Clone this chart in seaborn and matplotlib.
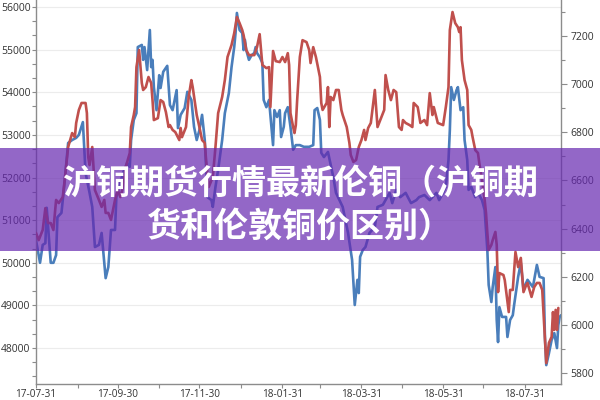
import matplotlib
matplotlib.use("Agg")
import matplotlib.pyplot as plt
import matplotlib.dates as mdates
from matplotlib.ticker import MultipleLocator, FixedLocator
from matplotlib.patches import Rectangle
import seaborn as sns
import pandas as pd

# ---------------- data ----------------
blue_dates = [
    "2017-07-31", "2017-08-03", "2017-08-05", "2017-08-07", "2017-08-08", "2017-08-11", "2017-08-13", "2017-08-15", "2017-08-16", "2017-08-19",
    "2017-08-21", "2017-08-24", "2017-08-27", "2017-08-30", "2017-09-01", "2017-09-04", "2017-09-06", "2017-09-09", "2017-09-11", "2017-09-13",
    "2017-09-16", "2017-09-18", "2017-09-21", "2017-09-23", "2017-09-25", "2017-09-28", "2017-09-29", "2017-10-04", "2017-10-07", "2017-10-09",
    "2017-10-10", "2017-10-12", "2017-10-14", "2017-10-15", "2017-10-18", "2017-10-19", "2017-10-20", "2017-10-22", "2017-10-24", "2017-10-25",
    "2017-10-26", "2017-10-27", "2017-10-29", "2017-10-31", "2017-11-01", "2017-11-03", "2017-11-06", "2017-11-08", "2017-11-10", "2017-11-13",
    "2017-11-14", "2017-11-16", "2017-11-19", "2017-11-21", "2017-11-24", "2017-11-26", "2017-11-28", "2017-11-30", "2017-12-02", "2017-12-04",
    "2017-12-05", "2017-12-06", "2017-12-09", "2017-12-10", "2017-12-12", "2017-12-14", "2017-12-17", "2017-12-19", "2017-12-22", "2017-12-24",
    "2017-12-26", "2017-12-27", "2017-12-28", "2017-12-30", "2018-01-01", "2018-01-02", "2018-01-03", "2018-01-04", "2018-01-06", "2018-01-08",
    "2018-01-10", "2018-01-11", "2018-01-12", "2018-01-14", "2018-01-16", "2018-01-17", "2018-01-19", "2018-01-21", "2018-01-24", "2018-01-25",
    "2018-01-27", "2018-01-29", "2018-01-30", "2018-02-01", "2018-02-02", "2018-02-04", "2018-02-06", "2018-02-08", "2018-02-10", "2018-02-13",
    "2018-02-16", "2018-02-20", "2018-02-23", "2018-02-24", "2018-02-26", "2018-02-28", "2018-03-01", "2018-03-03", "2018-03-06", "2018-03-10",
    "2018-03-12", "2018-03-17", "2018-03-21", "2018-03-24", "2018-03-25", "2018-03-26", "2018-03-28", "2018-03-29", "2018-03-30", "2018-04-01",
    "2018-04-03", "2018-04-06", "2018-04-10", "2018-04-12", "2018-04-16", "2018-04-21", "2018-04-23", "2018-04-26", "2018-04-29", "2018-05-03",
    "2018-05-07", "2018-05-11", "2018-05-13", "2018-05-17", "2018-05-21", "2018-05-23", "2018-05-26", "2018-05-28", "2018-05-31", "2018-06-02",
    "2018-06-04", "2018-06-05", "2018-06-06", "2018-06-08", "2018-06-10", "2018-06-11", "2018-06-13", "2018-06-15", "2018-06-16", "2018-06-18",
    "2018-06-19", "2018-06-21", "2018-06-24", "2018-06-26", "2018-06-29", "2018-07-01", "2018-07-03", "2018-07-04", "2018-07-06", "2018-07-07",
    "2018-07-09", "2018-07-10", "2018-07-11", "2018-07-12", "2018-07-14", "2018-07-17", "2018-07-18", "2018-07-20", "2018-07-22", "2018-07-23",
    "2018-07-26", "2018-07-28", "2018-07-30", "2018-08-01", "2018-08-02", "2018-08-06", "2018-08-09", "2018-08-11", "2018-08-14", "2018-08-15",
    "2018-08-16", "2018-08-18", "2018-08-20", "2018-08-22", "2018-08-24", "2018-08-25", "2018-08-26", "2018-08-27",
]
blue_values = [
    50530, 50000, 50420, 50460, 51290, 50000, 50000, 50180, 51070, 51170,
    51780, 52810, 52880, 52930, 53000, 53300, 52110, 51640, 51310, 50370,
    50420, 50700, 49640, 49900, 50770, 50770, 51540, 52110, 52340, 52250,
    52880, 53350, 53510, 55060, 55110, 54760, 55060, 54520, 55460, 54590,
    54760, 54120, 53580, 54400, 54100, 54480, 54620, 53700, 53580, 54050,
    53160, 53470, 53630, 54010, 53820, 53190, 52880, 53110, 53470, 52880,
    52250, 51540, 51470, 51310, 51780, 52180, 52880, 53510, 53980, 54590,
    55060, 55390, 55860, 55460, 55390, 54990, 55230, 54990, 54760, 54870,
    54920, 55060, 54920, 54830, 54690, 53820, 53650, 53820, 52760, 53580,
    53420, 53580, 52950, 53190, 53510, 53650, 53190, 52650, 52760, 52760,
    52720, 52720, 52760, 53580, 53630, 53350, 52580, 52480, 52600, 52010,
    51640, 51310, 50700, 50070, 49530, 49010, 49600, 49290, 50140, 50300,
    50370, 50700, 50840, 51310, 51360, 51640, 51400, 51710, 51540, 51640,
    51400, 51470, 51540, 51590, 51470, 51540, 51640, 51470, 51640, 51780,
    52410, 53110, 54120, 53820, 54050, 54120, 53580, 53650, 52880, 52410,
    51710, 51780, 51540, 51640, 51470, 51240, 50300, 49480, 49080, 49430,
    49900, 48660, 48140, 48960, 48730, 48730, 48260, 48660, 48770, 49010,
    49670, 50000, 49360, 49530, 49600, 49430, 49950, 49670, 49640, 48260,
    47600, 47880, 48190, 48350, 48000, 48540, 48730, 48770,
]

red_dates = [
    "2017-07-31", "2017-08-02", "2017-08-05", "2017-08-07", "2017-08-09", "2017-08-11", "2017-08-13", "2017-08-15", "2017-08-17", "2017-08-20",
    "2017-08-22", "2017-08-24", "2017-08-27", "2017-08-29", "2017-08-30", "2017-09-01", "2017-09-03", "2017-09-06", "2017-09-07", "2017-09-08",
    "2017-09-09", "2017-09-11", "2017-09-13", "2017-09-16", "2017-09-18", "2017-09-20", "2017-09-21", "2017-09-23", "2017-09-25", "2017-09-28",
    "2017-09-30", "2017-10-02", "2017-10-04", "2017-10-06", "2017-10-09", "2017-10-10", "2017-10-12", "2017-10-13", "2017-10-14", "2017-10-16",
    "2017-10-18", "2017-10-19", "2017-10-21", "2017-10-23", "2017-10-25", "2017-10-26", "2017-10-27", "2017-10-30", "2017-11-01", "2017-11-03",
    "2017-11-05", "2017-11-07", "2017-11-08", "2017-11-10", "2017-11-12", "2017-11-15", "2017-11-16", "2017-11-17", "2017-11-20", "2017-11-22",
    "2017-11-24", "2017-11-25", "2017-11-28", "2017-11-30", "2017-12-02", "2017-12-04", "2017-12-05", "2017-12-06", "2017-12-07", "2017-12-10",
    "2017-12-12", "2017-12-14", "2017-12-17", "2017-12-19", "2017-12-21", "2017-12-24", "2017-12-26", "2017-12-28", "2017-12-30", "2018-01-01",
    "2018-01-02", "2018-01-04", "2018-01-06", "2018-01-08", "2018-01-10", "2018-01-12", "2018-01-14", "2018-01-16", "2018-01-19", "2018-01-21",
    "2018-01-22", "2018-01-24", "2018-01-26", "2018-01-29", "2018-01-31", "2018-02-02", "2018-02-04", "2018-02-05", "2018-02-06", "2018-02-08",
    "2018-02-09", "2018-02-10", "2018-02-11", "2018-02-13", "2018-02-15", "2018-02-18", "2018-02-20", "2018-02-21", "2018-02-23", "2018-02-25",
    "2018-02-28", "2018-03-01", "2018-03-02", "2018-03-05", "2018-03-06", "2018-03-07", "2018-03-08", "2018-03-10", "2018-03-12", "2018-03-14",
    "2018-03-16", "2018-03-17", "2018-03-20", "2018-03-22", "2018-03-23", "2018-03-25", "2018-03-27", "2018-03-29", "2018-03-31", "2018-04-02",
    "2018-04-03", "2018-04-05", "2018-04-07", "2018-04-10", "2018-04-12", "2018-04-15", "2018-04-17", "2018-04-18", "2018-04-20", "2018-04-22",
    "2018-04-24", "2018-04-26", "2018-04-28", "2018-04-30", "2018-05-01", "2018-05-03", "2018-05-06", "2018-05-08", "2018-05-09", "2018-05-12",
    "2018-05-14", "2018-05-17", "2018-05-19", "2018-05-21", "2018-05-23", "2018-05-24", "2018-05-27", "2018-05-31", "2018-06-02", "2018-06-04",
    "2018-06-05", "2018-06-07", "2018-06-09", "2018-06-11", "2018-06-12", "2018-06-13", "2018-06-14", "2018-06-16", "2018-06-18", "2018-06-19",
    "2018-06-21", "2018-06-22", "2018-06-24", "2018-06-26", "2018-06-27", "2018-06-29", "2018-07-01", "2018-07-02", "2018-07-03", "2018-07-04",
    "2018-07-06", "2018-07-07", "2018-07-09", "2018-07-10", "2018-07-11", "2018-07-12", "2018-07-15", "2018-07-16", "2018-07-19", "2018-07-20",
    "2018-07-22", "2018-07-24", "2018-07-26", "2018-07-28", "2018-07-30", "2018-08-01", "2018-08-02", "2018-08-05", "2018-08-07", "2018-08-09",
    "2018-08-11", "2018-08-13", "2018-08-16", "2018-08-18", "2018-08-20", "2018-08-21", "2018-08-22", "2018-08-23", "2018-08-24", "2018-08-25",
]
red_values = [
    6382, 6352, 6394, 6485, 6423, 6423, 6394, 6519, 6506, 6531,
    6631, 6739, 6797, 6780, 6839, 6893, 6922, 6922, 6880, 6697,
    6664, 6739, 6560, 6519, 6490, 6519, 6465, 6465, 6436, 6519,
    6560, 6531, 6573, 6656, 6714, 6822, 6872, 6905, 7071, 7142,
    7005, 6976, 6988, 7030, 7005, 6934, 6851, 6859, 6934, 6926,
    6884, 6822, 6830, 6810, 6801, 6768, 6818, 6780, 6822, 6947,
    7017, 6988, 6872, 6822, 6768, 6756, 6685, 6631, 6573, 6614,
    6739, 6880, 6947, 7017, 7113, 7163, 7212, 7279, 7254, 7225,
    7204, 7142, 7121, 7121, 7121, 7154, 7208, 7080, 7067, 7071,
    6905, 7138, 7096, 7092, 7113, 7092, 7129, 7080, 6880, 6822,
    6797, 6830, 6934, 7113, 7183, 7175, 7142, 7088, 7154, 7113,
    7030, 6922, 6893, 6922, 6988, 6822, 6947, 6934, 6976, 6976,
    6893, 6872, 6822, 6756, 6706, 6677, 6685, 6739, 6768, 6810,
    6768, 6818, 6839, 6976, 6822, 6864, 6893, 7038, 6976, 6934,
    6976, 6967, 6822, 6810, 6851, 6839, 6830, 6822, 6922, 6905,
    6839, 6851, 6830, 6963, 6872, 6905, 6839, 6830, 6905, 6988,
    7225, 7300, 7254, 7237, 7217, 7237, 7100, 7017, 6976, 6830,
    6810, 6780, 6726, 6714, 6672, 6602, 6519, 6465, 6382, 6311,
    6332, 6352, 6386, 6332, 6136, 6215, 6207, 6186, 6053, 6145,
    6145, 6303, 6240, 6278, 6136, 6165, 6174, 6116, 6157, 6174,
    6174, 6145, 5841, 5925, 5950, 6053, 5979, 6062, 5979, 6070,
]

x_tick_labels = ["2017-07-31", "2017-09-30", "2017-11-30", "2018-01-31", "2018-03-31", "2018-05-31", "2018-07-31"]
x_minor_ticks = ["2017-08-31", "2017-10-31", "2017-12-31", "2018-02-28", "2018-04-30", "2018-06-30"]
title_lines = ["沪铜期货行情最新伦铜（沪铜期", "货和伦敦铜价区别）"]

# ---------------- style ----------------
sns.set_style("white")
plt.rcParams['font.family'] = ['Open Sans', 'DejaVu Sans']

BLUE = "#4a7ebb"
RED = "#c0504d"
SPINE = "#8c8c8c"
TXT = "#333333"

blue_df = pd.DataFrame({"date": pd.to_datetime(blue_dates), "price": blue_values})
red_df = pd.DataFrame({"date": pd.to_datetime(red_dates), "price": red_values})

fig = plt.figure(figsize=(6, 4), dpi=100)
ax = fig.add_axes([0.06, 0.04, 0.875, 0.96])
ax2 = ax.twinx()

sns.lineplot(data=blue_df, x="date", y="price", ax=ax, color=BLUE, linewidth=1.9)
sns.lineplot(data=red_df, x="date", y="price", ax=ax2, color=RED, linewidth=1.9)

ax.set_xlim(pd.Timestamp("2017-07-31"), pd.Timestamp("2018-08-27"))
ax.set_ylim(47157, 56164)
ax2.set_ylim(5754, 7350)

for a in (ax, ax2):
    a.set_xlabel("")
    a.set_ylabel("")
    a.spines["top"].set_visible(False)
    for s in ("left", "right", "bottom"):
        a.spines[s].set_color(SPINE)
        a.spines[s].set_linewidth(1.0)

ax.spines["right"].set_visible(False)
ax2.spines["left"].set_visible(False)
ax2.spines["bottom"].set_visible(False)

ax.yaxis.set_major_locator(MultipleLocator(1000))
ax.yaxis.set_minor_locator(MultipleLocator(1000 / 3))
ax2.yaxis.set_major_locator(MultipleLocator(200))
ax2.yaxis.set_minor_locator(MultipleLocator(100))

ax.xaxis.set_major_locator(FixedLocator(mdates.date2num(pd.to_datetime(x_tick_labels))))
ax.xaxis.set_minor_locator(FixedLocator(mdates.date2num(pd.to_datetime(x_minor_ticks))))
ax.xaxis.set_major_formatter(mdates.DateFormatter("%y-%m-%d"))

ax.grid(axis="y", which="major", color="#ececec", linewidth=0.8)
ax.grid(axis="x", visible=False)
ax2.grid(False)

ax.tick_params(axis="y", which="major", direction="out", length=3, width=0.8, color=SPINE,
               labelsize=7.5, labelcolor=TXT, pad=1, left=True)
ax.tick_params(axis="y", which="minor", direction="out", length=3, width=0.8, color=SPINE, left=True)
ax.tick_params(axis="x", which="major", direction="out", length=3, width=0.8, color=SPINE,
               labelsize=7.2, labelcolor=TXT, pad=0.5, bottom=True)
ax.tick_params(axis="x", which="minor", direction="out", length=3, width=0.8, color=SPINE, bottom=True)
ax2.tick_params(axis="y", which="major", direction="out", length=4, width=0.8, color=SPINE,
                labelsize=7.5, labelcolor=TXT, pad=3, right=True)
ax2.tick_params(axis="y", which="minor", direction="out", length=3, width=0.8, color=SPINE, right=True)

# ---------------- banner ----------------
banner = Rectangle((0, 1 - 251 / 400), 1, (251 - 148) / 400, transform=fig.transFigure,
                   facecolor="#6627b0", alpha=0.7, edgecolor="none", zorder=5)
fig.add_artist(banner)
cjk = ["Noto Sans CJK SC", "DejaVu Sans"]
fig.text(0.5, 1 - 183 / 400, title_lines[0], ha="center", va="center", fontsize=24.5,
         color="white", fontweight="heavy", family=cjk, zorder=6)
fig.text(0.5, 1 - 226 / 400, title_lines[1], ha="center", va="center", fontsize=24.5,
         color="white", fontweight="heavy", family=cjk, zorder=6)

fig.savefig("out.png", dpi=100)
